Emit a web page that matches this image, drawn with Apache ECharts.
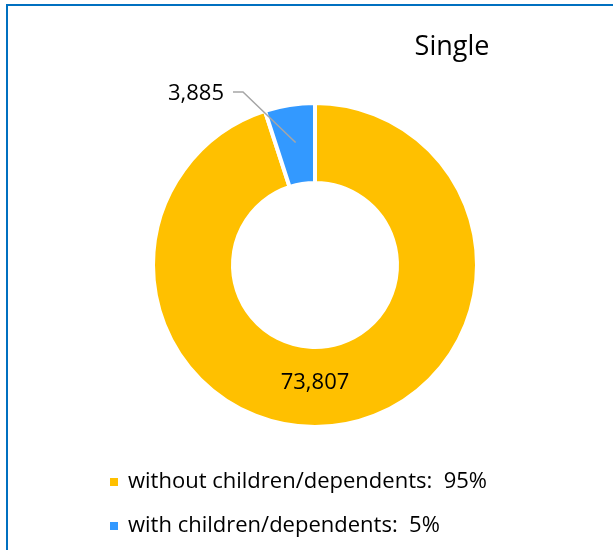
<!DOCTYPE html>
<html>
<head>
<meta charset="utf-8">
<script src="https://cdn.jsdelivr.net/npm/echarts@6/dist/echarts.min.js"></script>
<style>
  html, body { margin: 0; padding: 0; background: #fff; }
  #chart { width: 613px; height: 550px; }
</style>
</head>
<body>
<div id="chart"></div>
<script>
var categories = ['without children/dependents', 'with children/dependents'];
var values = [73807, 3885];
var colors = ['#FFC000', '#3399FF'];

var total = values.reduce(function (a, b) { return a + b; }, 0);
var cx = 315, cy = 265, rIn = 82, rOut = 162;
var font = 'Open Sans';

function midAngle(i) {
  var before = 0;
  for (var k = 0; k < i; k++) before += values[k];
  return (before + values[i] / 2) / total * 2 * Math.PI;
}

function fmt(p) { return p.value.toLocaleString('en-US'); }

var myChart = echarts.init(document.getElementById('chart'));
var option = {
  animation: false,
  color: colors,
  title: {
    text: 'Single',
    left: 447,
    top: 29,
    textAlign: 'center',
    textStyle: { fontFamily: font, fontSize: 27, fontWeight: 'normal', color: '#000' }
  },
  legend: {
    orient: 'vertical',
    left: 103,
    top: 466,
    itemWidth: 10,
    itemHeight: 10,
    itemGap: 22,
    icon: 'rect',
    data: categories,
    textStyle: { fontFamily: font, fontSize: 22, color: '#000', padding: [0, 0, 0, 4] },
    formatter: function (name) {
      var i = categories.indexOf(name);
      return name + ':  ' + Math.round(values[i] / total * 100) + '%';
    }
  },
  graphic: [{
    type: 'rect',
    shape: { x: 7, y: 5, width: 700, height: 700 },
    style: { fill: 'none', stroke: '#0070C0', lineWidth: 2 }
  }],
  series: [{
    type: 'pie',
    center: [cx, cy],
    radius: [rIn, rOut],
    startAngle: 90,
    clockwise: true,
    itemStyle: { borderColor: '#fff', borderWidth: 4 },
    label: {
      show: true,
      position: 'inside',
      color: '#000',
      fontFamily: font,
      fontSize: 22,
      formatter: fmt
    },
    labelLayout: function (p) {
      return { x: cx, y: cy + 118, align: 'center', verticalAlign: 'middle' };
    },
    data: categories.map(function (c, i) {
      return { name: c, value: values[i], label: { show: i === 0 } };
    })
  }, {
    // transparent overlay so the leader line of the small slice is drawn on top
    type: 'pie',
    z: 5,
    silent: true,
    legendHoverLink: false,
    center: [cx, cy],
    radius: [rIn, rOut],
    startAngle: 90,
    clockwise: true,
    itemStyle: { color: 'rgba(0,0,0,0)', borderWidth: 0 },
    label: {
      show: true,
      color: '#000',
      fontFamily: font,
      fontSize: 22,
      formatter: fmt
    },
    labelLine: { show: true, lineStyle: { color: '#A6A6A6', width: 1.5 } },
    labelLayout: function (p) {
      var a = midAngle(p.dataIndex);
      var sx = cx + 124 * Math.sin(a), sy = cy - 124 * Math.cos(a);
      return {
        x: 224, y: 94, align: 'right', verticalAlign: 'middle',
        labelLinePoints: [[sx, sy], [243, 92], [233, 92]]
      };
    },
    data: categories.map(function (c, i) {
      return {
        name: c, value: values[i],
        label: { show: i === 1 }, labelLine: { show: i === 1 }
      };
    })
  }]
};
myChart.setOption(option);
</script>
</body>
</html>
